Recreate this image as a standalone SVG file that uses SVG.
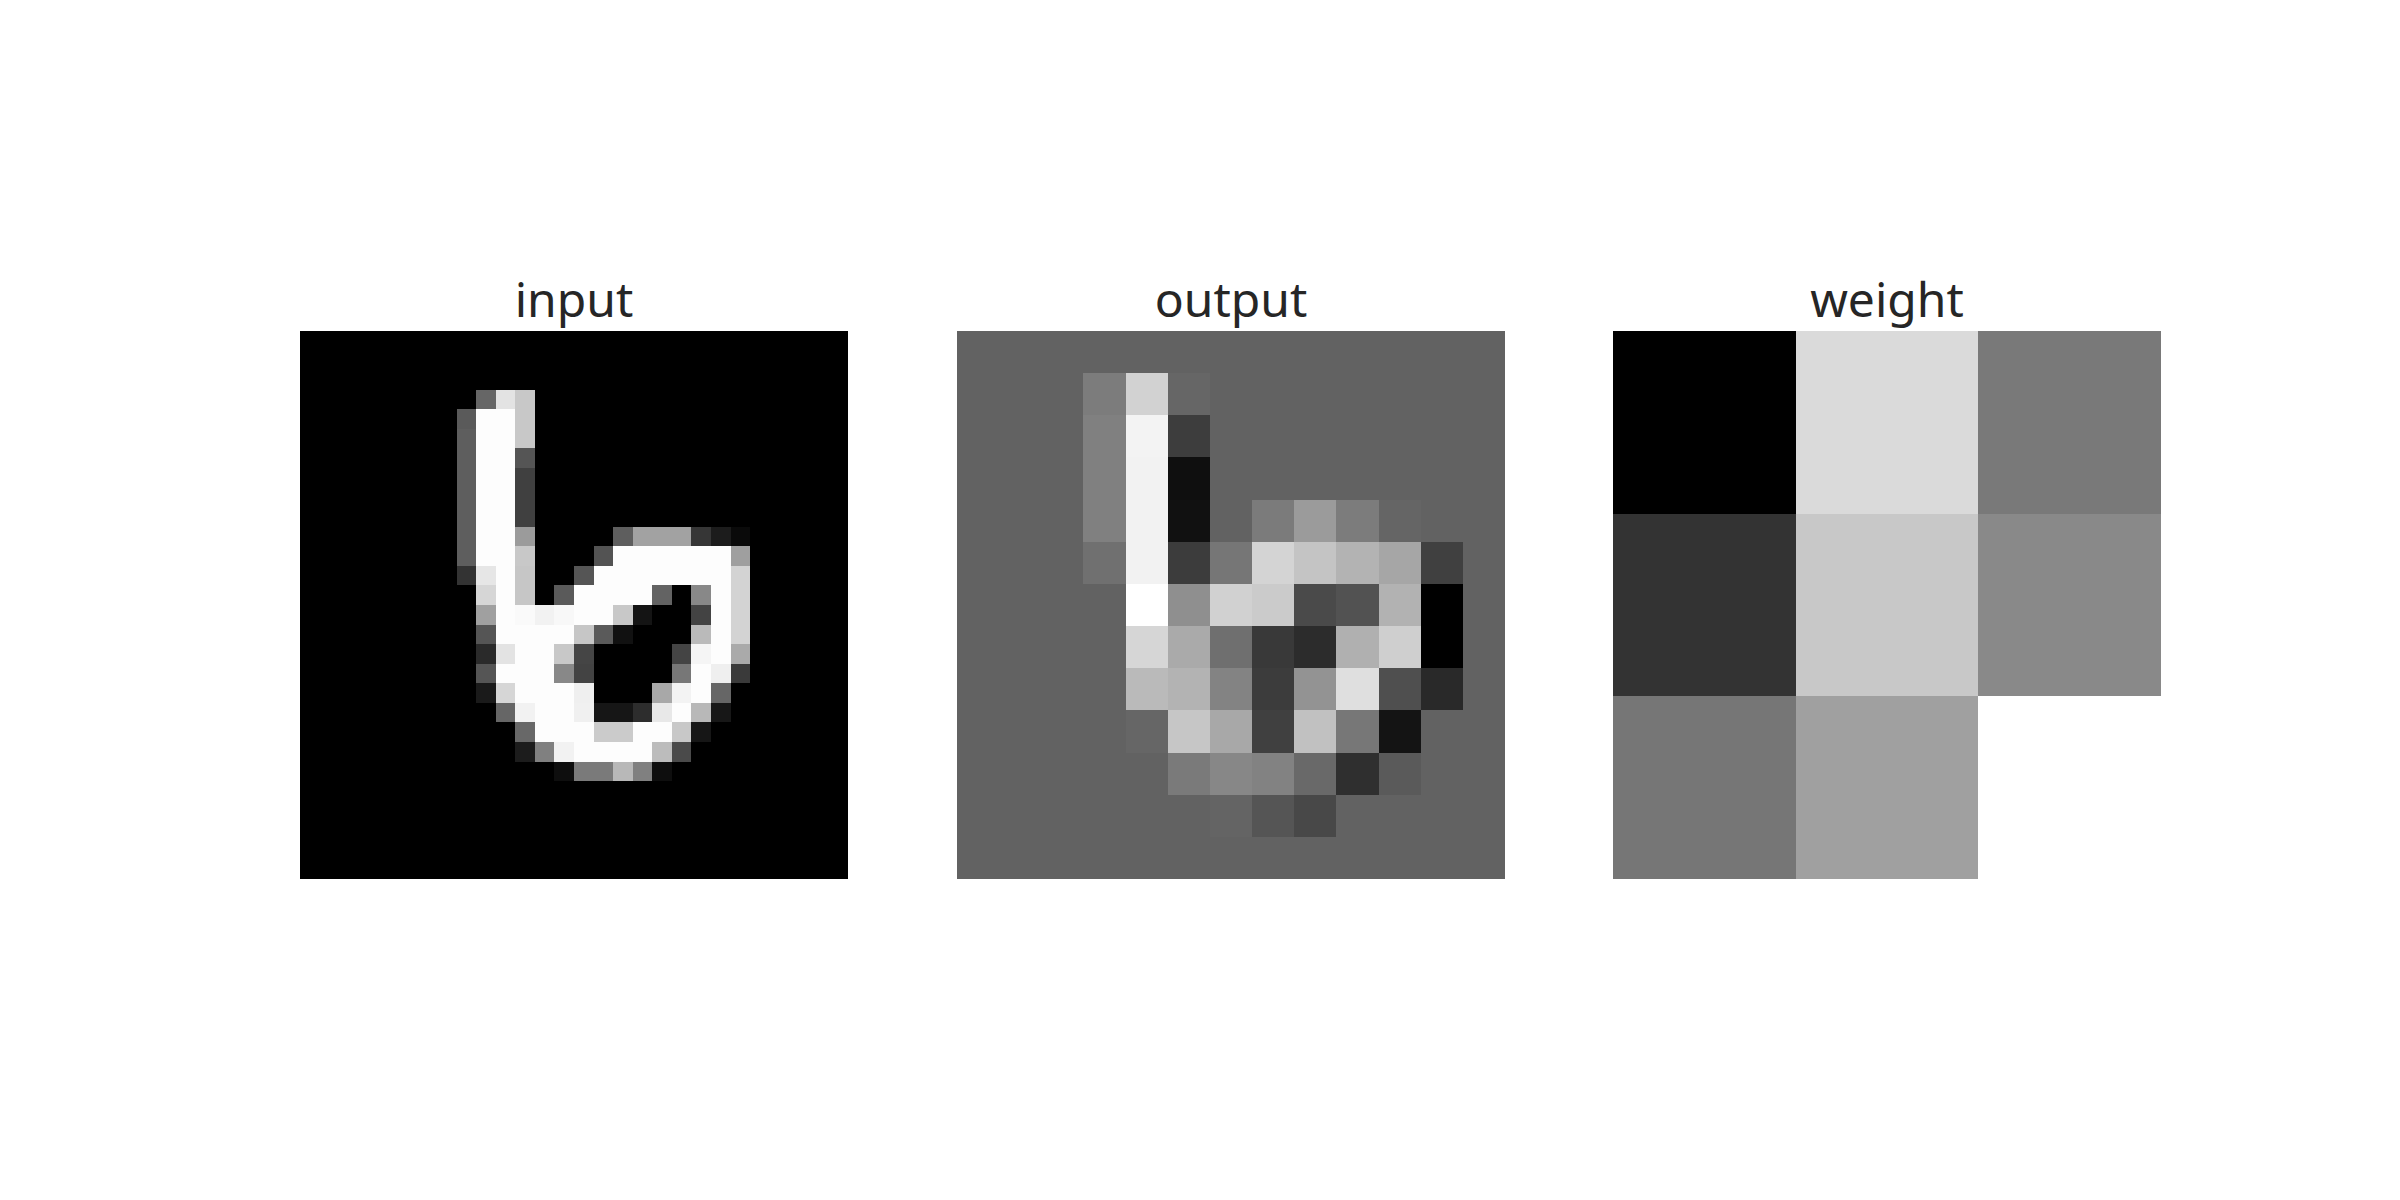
<svg xmlns="http://www.w3.org/2000/svg" width="2400" height="1200" viewBox="0 0 2400 1200">
<style>
.t{font-family:"Noto Sans","Open Sans","DejaVu Sans",sans-serif;font-size:48px;fill:#262626;text-anchor:middle}
rect{shape-rendering:crispEdges}
</style>
<rect width="2400" height="1200" fill="#ffffff"/>
<g id="input">
<text class="t" x="574" y="317">input</text>
<g transform="translate(300,331) scale(19.5714)">
<rect width="28" height="28" fill="#000"/>
<rect x="9" y="3" width="1" height="1" fill="#666666"/><rect x="10" y="3" width="1" height="1" fill="#e3e3e3"/><rect x="11" y="3" width="1" height="1" fill="#c8c8c8"/>
<rect x="8" y="4" width="1" height="1" fill="#5a5a5a"/><rect x="9" y="4" width="2" height="1" fill="#fdfdfd"/><rect x="11" y="4" width="1" height="1" fill="#c8c8c8"/>
<rect x="8" y="5" width="1" height="7" fill="#5e5e5e"/><rect x="9" y="5" width="2" height="7" fill="#fdfdfd"/>
<rect x="11" y="5" width="1" height="1" fill="#c8c8c8"/><rect x="11" y="6" width="1" height="1" fill="#555555"/><rect x="11" y="7" width="1" height="3" fill="#404040"/><rect x="11" y="10" width="1" height="1" fill="#9b9b9b"/><rect x="11" y="11" width="1" height="1" fill="#c8c8c8"/>
<rect x="16" y="10" width="1" height="1" fill="#5e5e5e"/><rect x="17" y="10" width="3" height="1" fill="#a2a2a2"/><rect x="20" y="10" width="1" height="1" fill="#363636"/><rect x="21" y="10" width="1" height="1" fill="#1c1c1c"/><rect x="22" y="10" width="1" height="1" fill="#0a0a0a"/>
<rect x="15" y="11" width="1" height="1" fill="#535353"/><rect x="16" y="11" width="6" height="1" fill="#fdfdfd"/><rect x="22" y="11" width="1" height="1" fill="#9f9f9f"/>
<rect x="8" y="12" width="1" height="1" fill="#333333"/><rect x="9" y="12" width="1" height="1" fill="#e6e6e6"/><rect x="10" y="12" width="1" height="1" fill="#fdfdfd"/><rect x="11" y="12" width="1" height="1" fill="#c6c6c6"/><rect x="14" y="12" width="1" height="1" fill="#555555"/><rect x="15" y="12" width="7" height="1" fill="#fdfdfd"/><rect x="22" y="12" width="1" height="4" fill="#d3d3d3"/>
<rect x="9" y="13" width="1" height="1" fill="#d6d6d6"/><rect x="10" y="13" width="1" height="1" fill="#fdfdfd"/><rect x="11" y="13" width="1" height="1" fill="#c6c6c6"/><rect x="13" y="13" width="1" height="1" fill="#5a5a5a"/><rect x="14" y="13" width="4" height="1" fill="#fdfdfd"/><rect x="18" y="13" width="1" height="1" fill="#636363"/><rect x="20" y="13" width="1" height="1" fill="#888888"/><rect x="21" y="13" width="1" height="4" fill="#fdfdfd"/>
<rect x="9" y="14" width="1" height="1" fill="#a0a0a0"/><rect x="10" y="14" width="1" height="1" fill="#fdfdfd"/><rect x="11" y="14" width="1" height="1" fill="#fafafa"/><rect x="12" y="14" width="1" height="1" fill="#f2f2f2"/><rect x="13" y="14" width="1" height="1" fill="#f8f8f8"/><rect x="14" y="14" width="2" height="1" fill="#fdfdfd"/><rect x="16" y="14" width="1" height="1" fill="#c8c8c8"/><rect x="17" y="14" width="1" height="1" fill="#141414"/><rect x="20" y="14" width="1" height="1" fill="#434343"/>
<rect x="9" y="15" width="1" height="1" fill="#555555"/><rect x="10" y="15" width="4" height="1" fill="#fdfdfd"/><rect x="14" y="15" width="1" height="1" fill="#c6c6c6"/><rect x="15" y="15" width="1" height="1" fill="#5a5a5a"/><rect x="16" y="15" width="1" height="1" fill="#111111"/><rect x="20" y="15" width="1" height="1" fill="#bababa"/>
<rect x="9" y="16" width="1" height="1" fill="#2a2a2a"/><rect x="10" y="16" width="1" height="1" fill="#e3e3e3"/><rect x="11" y="16" width="2" height="1" fill="#fdfdfd"/><rect x="13" y="16" width="1" height="1" fill="#c8c8c8"/><rect x="14" y="16" width="1" height="1" fill="#454545"/><rect x="19" y="16" width="1" height="1" fill="#444444"/><rect x="20" y="16" width="1" height="1" fill="#f5f5f5"/><rect x="22" y="16" width="1" height="1" fill="#aaaaaa"/>
<rect x="9" y="17" width="1" height="1" fill="#555555"/><rect x="10" y="17" width="3" height="1" fill="#fdfdfd"/><rect x="13" y="17" width="1" height="1" fill="#888888"/><rect x="14" y="17" width="1" height="1" fill="#434343"/><rect x="19" y="17" width="1" height="1" fill="#777777"/><rect x="20" y="17" width="1" height="1" fill="#fdfdfd"/><rect x="21" y="17" width="1" height="1" fill="#efefef"/><rect x="22" y="17" width="1" height="1" fill="#3a3a3a"/>
<rect x="9" y="18" width="1" height="1" fill="#1a1a1a"/><rect x="10" y="18" width="1" height="1" fill="#d6d6d6"/><rect x="11" y="18" width="3" height="1" fill="#fdfdfd"/><rect x="14" y="18" width="1" height="1" fill="#efefef"/><rect x="18" y="18" width="1" height="1" fill="#a8a8a8"/><rect x="19" y="18" width="1" height="1" fill="#f3f3f3"/><rect x="20" y="18" width="1" height="1" fill="#fdfdfd"/><rect x="21" y="18" width="1" height="1" fill="#666666"/>
<rect x="10" y="19" width="1" height="1" fill="#666666"/><rect x="11" y="19" width="1" height="1" fill="#f2f2f2"/><rect x="12" y="19" width="2" height="1" fill="#fdfdfd"/><rect x="14" y="19" width="1" height="1" fill="#f0f0f0"/><rect x="15" y="19" width="2" height="1" fill="#161616"/><rect x="17" y="19" width="1" height="1" fill="#2d2d2d"/><rect x="18" y="19" width="1" height="1" fill="#e8e8e8"/><rect x="19" y="19" width="1" height="1" fill="#fdfdfd"/><rect x="20" y="19" width="1" height="1" fill="#b8b8b8"/><rect x="21" y="19" width="1" height="1" fill="#171717"/>
<rect x="11" y="20" width="1" height="1" fill="#686868"/><rect x="12" y="20" width="3" height="1" fill="#fdfdfd"/><rect x="15" y="20" width="2" height="1" fill="#cbcbcb"/><rect x="17" y="20" width="2" height="1" fill="#fdfdfd"/><rect x="19" y="20" width="1" height="1" fill="#c8c8c8"/><rect x="20" y="20" width="1" height="1" fill="#161616"/>
<rect x="11" y="21" width="1" height="1" fill="#1c1c1c"/><rect x="12" y="21" width="1" height="1" fill="#808080"/><rect x="13" y="21" width="1" height="1" fill="#f2f2f2"/><rect x="14" y="21" width="4" height="1" fill="#fdfdfd"/><rect x="18" y="21" width="1" height="1" fill="#bcbcbc"/><rect x="19" y="21" width="1" height="1" fill="#4a4a4a"/>
<rect x="13" y="22" width="1" height="1" fill="#0e0e0e"/><rect x="14" y="22" width="2" height="1" fill="#7a7a7a"/><rect x="16" y="22" width="1" height="1" fill="#b8b8b8"/><rect x="17" y="22" width="1" height="1" fill="#808080"/><rect x="18" y="22" width="1" height="1" fill="#0e0e0e"/>
</g>
</g>
<g id="output">
<text class="t" x="1231" y="317">output</text>
<g transform="translate(957,331) scale(42.1538)">
<rect width="13" height="13" fill="#626262"/>
<rect x="3" y="1" width="1" height="1" fill="#7c7c7c"/><rect x="4" y="1" width="1" height="1" fill="#d2d2d2"/><rect x="5" y="1" width="1" height="1" fill="#666666"/>
<rect x="3" y="2" width="1" height="3" fill="#808080"/><rect x="4" y="2" width="1" height="1" fill="#f3f3f3"/><rect x="5" y="2" width="1" height="1" fill="#3d3d3d"/>
<rect x="4" y="3" width="1" height="3" fill="#f2f2f2"/><rect x="5" y="3" width="1" height="1" fill="#0f0f0f"/>
<rect x="5" y="4" width="1" height="1" fill="#111111"/><rect x="7" y="4" width="1" height="1" fill="#7b7b7b"/><rect x="8" y="4" width="1" height="1" fill="#9b9b9b"/><rect x="9" y="4" width="1" height="1" fill="#7c7c7c"/><rect x="10" y="4" width="1" height="1" fill="#656565"/>
<rect x="3" y="5" width="1" height="1" fill="#707070"/><rect x="5" y="5" width="1" height="1" fill="#3c3c3c"/><rect x="6" y="5" width="1" height="1" fill="#767676"/><rect x="7" y="5" width="1" height="1" fill="#d4d4d4"/><rect x="8" y="5" width="1" height="1" fill="#c4c4c4"/><rect x="9" y="5" width="1" height="1" fill="#b3b3b3"/><rect x="10" y="5" width="1" height="1" fill="#a6a6a6"/><rect x="11" y="5" width="1" height="1" fill="#404040"/>
<rect x="4" y="6" width="1" height="1" fill="#ffffff"/><rect x="5" y="6" width="1" height="1" fill="#8f8f8f"/><rect x="6" y="6" width="1" height="1" fill="#d1d1d1"/><rect x="7" y="6" width="1" height="1" fill="#cbcbcb"/><rect x="8" y="6" width="1" height="1" fill="#4a4a4a"/><rect x="9" y="6" width="1" height="1" fill="#525252"/><rect x="10" y="6" width="1" height="1" fill="#b2b2b2"/><rect x="11" y="6" width="1" height="2" fill="#000000"/>
<rect x="4" y="7" width="1" height="1" fill="#d6d6d6"/><rect x="5" y="7" width="1" height="1" fill="#aaaaaa"/><rect x="6" y="7" width="1" height="1" fill="#6f6f6f"/><rect x="7" y="7" width="1" height="1" fill="#393939"/><rect x="8" y="7" width="1" height="1" fill="#2c2c2c"/><rect x="9" y="7" width="1" height="1" fill="#b0b0b0"/><rect x="10" y="7" width="1" height="1" fill="#cfcfcf"/>
<rect x="4" y="8" width="1" height="1" fill="#bababa"/><rect x="5" y="8" width="1" height="1" fill="#b3b3b3"/><rect x="6" y="8" width="1" height="1" fill="#838383"/><rect x="7" y="8" width="1" height="1" fill="#3c3c3c"/><rect x="8" y="8" width="1" height="1" fill="#939393"/><rect x="9" y="8" width="1" height="1" fill="#dfdfdf"/><rect x="10" y="8" width="1" height="1" fill="#4f4f4f"/><rect x="11" y="8" width="1" height="1" fill="#292929"/>
<rect x="4" y="9" width="1" height="1" fill="#666666"/><rect x="5" y="9" width="1" height="1" fill="#c6c6c6"/><rect x="6" y="9" width="1" height="1" fill="#a8a8a8"/><rect x="7" y="9" width="1" height="1" fill="#404040"/><rect x="8" y="9" width="1" height="1" fill="#c1c1c1"/><rect x="9" y="9" width="1" height="1" fill="#777777"/><rect x="10" y="9" width="1" height="1" fill="#141414"/>
<rect x="5" y="10" width="1" height="1" fill="#7a7a7a"/><rect x="6" y="10" width="1" height="1" fill="#878787"/><rect x="7" y="10" width="1" height="1" fill="#828282"/><rect x="8" y="10" width="1" height="1" fill="#696969"/><rect x="9" y="10" width="1" height="1" fill="#2f2f2f"/><rect x="10" y="10" width="1" height="1" fill="#5a5a5a"/>
<rect x="6" y="11" width="1" height="1" fill="#646464"/><rect x="7" y="11" width="1" height="1" fill="#555555"/><rect x="8" y="11" width="1" height="1" fill="#484848"/>
</g>
</g>
<g id="weight">
<text class="t" x="1887" y="317">weight</text>
<g transform="translate(1613,331) scale(182.6667)">
<rect x="0" y="0" width="1" height="1" fill="#000000"/><rect x="1" y="0" width="1" height="1" fill="#dadada"/><rect x="2" y="0" width="1" height="1" fill="#797979"/>
<rect x="0" y="1" width="1" height="1" fill="#333333"/><rect x="1" y="1" width="1" height="1" fill="#c8c8c8"/><rect x="2" y="1" width="1" height="1" fill="#898989"/>
<rect x="0" y="2" width="1" height="1" fill="#767676"/><rect x="1" y="2" width="1" height="1" fill="#a0a0a0"/><rect x="2" y="2" width="1" height="1" fill="#ffffff"/>
</g>
</g>
</svg>
